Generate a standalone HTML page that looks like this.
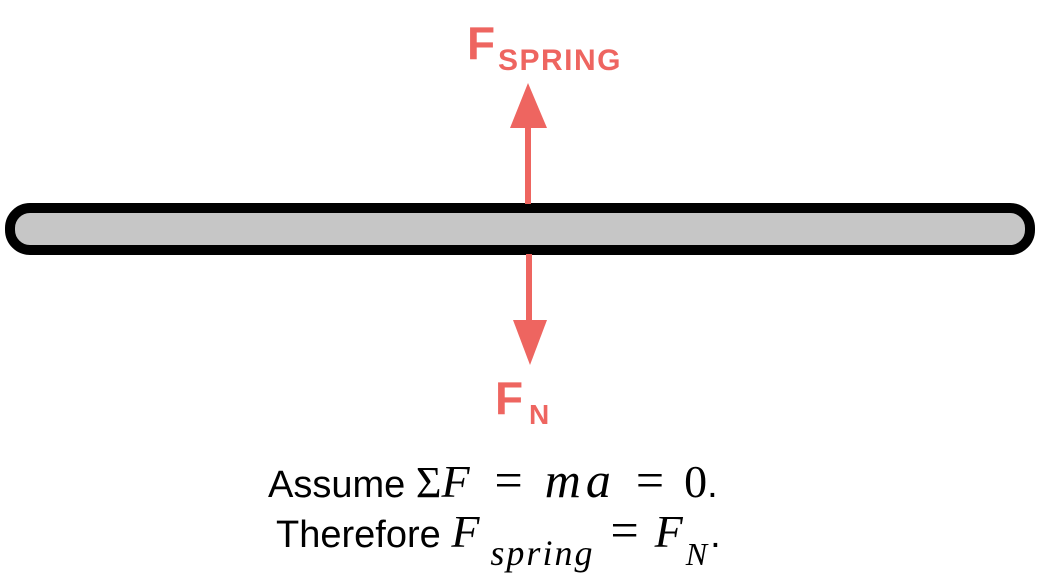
<!DOCTYPE html>
<html><head><style>
html,body{margin:0;padding:0;background:#fff;width:1056px;height:580px;overflow:hidden;position:relative}
.t{position:absolute;white-space:nowrap;line-height:1}
.r{color:#ee6560;font-family:"Liberation Sans",sans-serif;font-weight:bold}
.m{font-family:"Liberation Serif","DejaVu Serif",serif;font-style:italic;font-size:46px;letter-spacing:3px}
.n{font-family:"Liberation Serif","DejaVu Serif",serif;font-size:44px}
.e{font-family:"Liberation Serif","DejaVu Serif",serif;font-size:50px;margin:0 16px}
.b{font-family:"Liberation Sans",sans-serif;color:#000;font-size:38px}
</style></head><body>
<svg width="1056" height="580" style="position:absolute;left:0;top:0">
<rect x="10" y="208" width="1020" height="42" rx="20" ry="20" fill="#c6c6c6" stroke="#000" stroke-width="10"/>
<line x1="528" y1="204" x2="528" y2="126" stroke="#ee6560" stroke-width="6"/>
<polygon points="528,83 510,128 547,128" fill="#ee6560"/>
<line x1="529" y1="254" x2="529" y2="322" stroke="#ee6560" stroke-width="6"/>
<polygon points="530,365 513,320 547,320" fill="#ee6560"/>
</svg>
<div class="t r" style="left:467px;top:20px;font-size:46px">F</div>
<div class="t r" style="left:498px;top:46px;font-size:30px;letter-spacing:1.5px">SPRING</div>
<div class="t r" style="left:495px;top:375px;font-size:46px">F</div>
<div class="t r" style="left:529px;top:401px;font-size:28px">N</div>
<div class="t b" style="left:268px;top:455px">Assume <span class="n">Σ</span><span class="m">F</span><span class="e" style="margin:0 22px">=</span><span class="m" style="letter-spacing:5px;font-size:50px">ma</span><span class="e" style="margin:0 20px">=</span><span class="n" style="font-size:46px">0</span>.</div>
<div class="t b" style="left:276px;top:505px">Therefore <span class="m">F</span><span class="m" style="font-size:36px;position:relative;top:18px;margin-left:8px;letter-spacing:2px">spring</span><span class="e">=</span><span class="m">F</span><span class="m" style="font-size:32px;position:relative;top:18px;margin-left:0px">N</span>.</div>
</body></html>
